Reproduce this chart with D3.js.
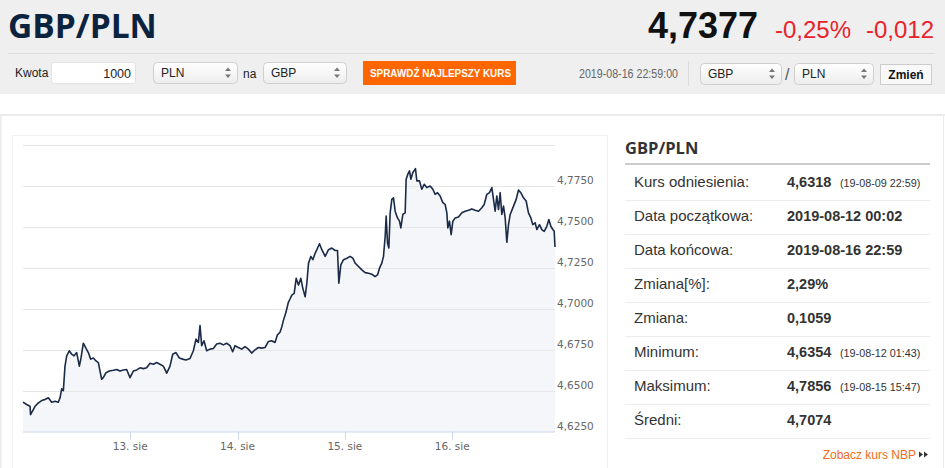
<!DOCTYPE html>
<html>
<head>
<meta charset="utf-8">
<script src="https://d3js.org/d3.v7.min.js"></script>
<style>
    body { margin: 0; background: #ffffff; }
    text { font-family: "Liberation Sans", Arial, sans-serif; }
    .axis-label { font-family: "DejaVu Sans", sans-serif; font-size: 10.5px; fill: #666666; }
</style>
</head>
<body>
<div id="container"></div>
<script>
    // hours since 2019-08-12 00:00 and the GBP/PLN rate
    const hours = [
        0.03, 0.85, 1.60, 1.72, 2.72, 3.46, 4.21, 4.95, 5.70, 6.44, 7.19, 7.93, 8.31, 8.68, 9.05, 9.42,
        9.80, 10.39, 10.91, 11.44, 12.03, 12.63, 13.00, 13.52, 14.12, 14.64, 15.16, 15.76, 16.35, 16.88,
        17.25, 17.62, 17.99, 18.59, 19.34, 20.23, 20.98, 21.72, 22.47, 23.21, 23.96, 24.70, 25.45, 26.19,
        26.94, 27.68, 28.43, 29.17, 29.92, 30.66, 31.41, 32.16, 32.90, 33.50, 34.24, 34.99, 35.73, 36.48,
        37.37, 38.12, 38.71, 39.24, 39.61, 39.98, 40.50, 41.10, 41.84, 42.59, 43.33, 44.08, 44.82, 45.57,
        46.32, 46.91, 47.43, 48.18, 48.92, 49.67, 50.42, 51.16, 51.91, 52.65, 53.40, 54.14, 54.89, 55.63,
        56.38, 56.90, 57.49, 57.87, 58.24, 58.84, 59.36, 59.73, 60.14, 60.66, 61.11, 61.63, 62.15, 62.60,
        63.12, 63.49, 63.87, 64.39, 64.83, 65.36, 65.73, 66.32, 66.85, 67.59, 68.34, 69.08, 69.83, 70.35,
        70.65, 71.09, 71.69, 72.44, 73.18, 73.78, 74.30, 75.05, 75.79, 76.54, 77.28, 78.03, 78.77, 79.29,
        79.74, 80.26, 80.63, 81.01, 81.23, 81.53, 81.83, 82.12, 82.50, 82.87, 83.24, 83.76, 84.21, 84.51,
        84.96, 85.48, 85.70, 86.07, 86.45, 86.75, 87.19, 87.78, 88.09, 88.68, 89.20, 89.73, 90.32, 91.07,
        91.66, 92.19, 92.71, 93.30, 93.90, 94.42, 94.80, 95.02, 95.39, 95.76, 96.14, 96.66, 97.40, 98.15,
        98.89, 99.64, 100.38, 101.13, 101.88, 102.62, 103.14, 103.74, 104.33, 104.86, 105.23, 105.60,
        105.97, 106.35, 106.72, 107.09, 107.47, 107.84, 108.21, 108.58, 108.96, 109.70, 110.30, 110.82,
        111.34, 111.94, 112.53, 113.05, 113.58, 114.02, 114.54, 114.92, 115.51, 116.04, 116.56, 117.15,
        117.60, 118.05, 118.50, 118.80, 118.98
    ];
    const rates = [
        4.6431, 4.6416, 4.6405, 4.6354, 4.6405, 4.6426, 4.6440, 4.6447, 4.6457, 4.6430, 4.6436, 4.6430, 4.6457, 4.6512, 4.6500, 4.6650,
        4.6713, 4.6744, 4.6723, 4.6713, 4.6733, 4.6650, 4.6700, 4.6790, 4.6758, 4.6733, 4.6693, 4.6700, 4.6682, 4.6672,
        4.6620, 4.6570, 4.6580, 4.6610, 4.6620, 4.6625, 4.6630, 4.6620, 4.6627, 4.6630, 4.6580, 4.6620, 4.6627, 4.6640,
        4.6635, 4.6640, 4.6668, 4.6662, 4.6672, 4.6662, 4.6650, 4.6607, 4.6650, 4.6723, 4.6733, 4.6700, 4.6693, 4.6688,
        4.6697, 4.6744, 4.6815, 4.6795, 4.6898, 4.6775, 4.6805, 4.6744, 4.6754, 4.6758, 4.6785, 4.6790, 4.6780, 4.6790,
        4.6775, 4.6738, 4.6775, 4.6764, 4.6754, 4.6770, 4.6754, 4.6730, 4.6750, 4.6764, 4.6760, 4.6764, 4.6800, 4.6805,
        4.6795, 4.6840, 4.6857, 4.6887, 4.6928, 4.6980, 4.7040, 4.7060, 4.7084, 4.7094, 4.7186, 4.7145, 4.7186, 4.7125,
        4.7074, 4.7156, 4.7279, 4.7320, 4.7300, 4.7340, 4.7361, 4.7397, 4.7361, 4.7320, 4.7361, 4.7371, 4.7356, 4.7356,
        4.7156, 4.7268, 4.7300, 4.7309, 4.7320, 4.7309, 4.7279, 4.7258, 4.7238, 4.7221, 4.7217, 4.7211, 4.7197, 4.7207,
        4.7248, 4.7279, 4.7320, 4.7443, 4.7566, 4.7402, 4.7371, 4.7586, 4.7668, 4.7678, 4.7596, 4.7555, 4.7535, 4.7494,
        4.7576, 4.7586, 4.7791, 4.7822, 4.7842, 4.7791, 4.7832, 4.7856, 4.7781, 4.7781, 4.7730, 4.7760, 4.7740, 4.7750,
        4.7730, 4.7699, 4.7709, 4.7689, 4.7648, 4.7637, 4.7586, 4.7494, 4.7535, 4.7453, 4.7535, 4.7555, 4.7561, 4.7586,
        4.7596, 4.7602, 4.7610, 4.7602, 4.7596, 4.7617, 4.7637, 4.7699, 4.7709, 4.7740, 4.7668, 4.7596,
        4.7689, 4.7606, 4.7709, 4.7576, 4.7627, 4.7555, 4.7406, 4.7514, 4.7576, 4.7627, 4.7668, 4.7725,
        4.7709, 4.7678, 4.7658, 4.7586, 4.7555, 4.7514, 4.7525, 4.7484, 4.7514, 4.7484, 4.7473, 4.7504,
        4.7545, 4.7504, 4.7484, 4.7473, 4.7377
    ];
    const yTicks = [4.625, 4.650, 4.675, 4.700, 4.725, 4.750, 4.775, 4.800];
    const yLabelMax = 4.775;

    const statLabels = ["Kurs odniesienia:", "Data początkowa:", "Data końcowa:", "Zmiana[%]:", "Zmiana:", "Minimum:", "Maksimum:", "Średni:"];
    const statValues = ["4,6318", "2019-08-12 00:02", "2019-08-16 22:59", "2,29%", "0,1059", "4,6354", "4,7856", "4,7074"];
    const statNotes = ["(19-08-09 22:59)", "", "", "", "", "(19-08-12 01:43)", "(19-08-15 15:47)", ""];

    const plLocale = d3.formatLocale({decimal: ",", thousands: " ", grouping: [3], currency: ["", " zł"]});
    const fmt4 = plLocale.format(".4f");

    const W = 945, H = 468;
    const svg = d3.select("#container").append("svg")
        .attr("width", W).attr("height", H);

    // ---------- header ----------
    svg.append("rect").attr("x", 0).attr("y", 0).attr("width", W).attr("height", 94).attr("fill", "#efefef");

    svg.append("text").attr("x", 8).attr("y", 38)
        .style("font-family", "'Open Sans', sans-serif").style("font-weight", "bold")
        .style("font-size", "33.5px").attr("fill", "#0c2340").text("GBP/PLN");

    svg.append("text").attr("x", 758).attr("y", 38).attr("text-anchor", "end")
        .style("font-weight", "bold").style("font-size", "36px").attr("fill", "#111111")
        .text(fmt4(rates[rates.length - 1]));
    svg.append("text").attr("x", 775).attr("y", 38)
        .style("font-size", "24px").attr("fill", "#e9222b").text("-0,25%");
    svg.append("text").attr("x", 866).attr("y", 38)
        .style("font-size", "24px").attr("fill", "#e9222b").text("-0,012");

    svg.append("line").attr("x1", 8).attr("x2", 935).attr("y1", 53.5).attr("y2", 53.5)
        .attr("stroke", "#dcdcdc");

    // select box like a browser dropdown
    const grad = svg.append("defs").append("linearGradient").attr("id", "selGrad")
        .attr("x1", 0).attr("x2", 0).attr("y1", 0).attr("y2", 1);
    grad.append("stop").attr("offset", "0%").attr("stop-color", "#ffffff");
    grad.append("stop").attr("offset", "100%").attr("stop-color", "#ededed");

    function selectBox(x, y, w, h, label) {
        const g = svg.append("g").attr("transform", `translate(${x},${y})`);
        g.append("rect").attr("x", 0.5).attr("y", 0.5).attr("width", w).attr("height", h)
            .attr("rx", 4).attr("fill", "url(#selGrad)").attr("stroke", "#cfcfcf");
        g.append("text").attr("x", 8).attr("y", h / 2 + 4.5).style("font-size", "12px")
            .attr("fill", "#222").text(label);
        const ax = w - 9, cy = h / 2;
        g.append("path").attr("d", `M${ax - 3},${cy - 1.5} L${ax},${cy - 5} L${ax + 3},${cy - 1.5} Z`).attr("fill", "#777");
        g.append("path").attr("d", `M${ax - 3},${cy + 2} L${ax},${cy + 5.5} L${ax + 3},${cy + 2} Z`).attr("fill", "#777");
    }

    svg.append("text").attr("x", 15).attr("y", 77).style("font-size", "12px").attr("fill", "#222").text("Kwota");
    svg.append("rect").attr("x", 51.5).attr("y", 62.5).attr("width", 84).attr("height", 21)
        .attr("rx", 2).attr("fill", "#fff").attr("stroke", "#e2e2e2");
    svg.append("text").attr("x", 131).attr("y", 77.5).attr("text-anchor", "end")
        .style("font-size", "12.5px").attr("fill", "#222").text("1000");

    selectBox(153, 62, 84, 21, "PLN");
    svg.append("text").attr("x", 243).attr("y", 77.5).style("font-size", "12px").attr("fill", "#222").text("na");
    selectBox(263, 62, 83, 21, "GBP");

    svg.append("rect").attr("x", 363).attr("y", 61).attr("width", 153).attr("height", 24).attr("fill", "#ff6600");
    svg.append("text").attr("x", 370).attr("y", 77).style("font-size", "11px").style("font-weight", "bold")
        .attr("fill", "#fff").attr("textLength", 141).attr("lengthAdjust", "spacingAndGlyphs")
        .text("SPRAWDŹ NAJLEPSZY KURS");

    svg.append("text").attr("x", 579).attr("y", 78).style("font-size", "12.5px").attr("fill", "#666")
        .attr("textLength", 99).attr("lengthAdjust", "spacingAndGlyphs").text("2019-08-16 22:59:00");
    svg.append("line").attr("x1", 688.5).attr("x2", 688.5).attr("y1", 61).attr("y2", 86).attr("stroke", "#dcdcdc");

    selectBox(700, 63, 81, 21, "GBP");
    svg.append("text").attr("x", 785).attr("y", 80).style("font-size", "16px").attr("fill", "#555").text("/");
    selectBox(794, 63, 79, 21, "PLN");

    svg.append("rect").attr("x", 880.5).attr("y", 64.5).attr("width", 51).attr("height", 20)
        .attr("fill", "#f8f8f8").attr("stroke", "#cccccc");
    svg.append("text").attr("x", 906).attr("y", 79).attr("text-anchor", "middle")
        .style("font-size", "12px").style("font-weight", "bold").attr("fill", "#111").text("Zmień");

    // ---------- card ----------
    svg.append("line").attr("x1", 0).attr("x2", W).attr("y1", 115).attr("y2", 115)
        .attr("stroke", "#ebebeb").attr("stroke-width", 2);
    svg.append("line").attr("x1", 0.8).attr("x2", 0.8).attr("y1", 114).attr("y2", H)
        .attr("stroke", "#ebebeb").attr("stroke-width", 1.6);
    svg.append("line").attr("x1", 943.5).attr("x2", 943.5).attr("y1", 114).attr("y2", H)
        .attr("stroke", "#ebebeb");
    svg.append("rect").attr("x", 12.5).attr("y", 135.5).attr("width", 595).attr("height", 360)
        .attr("fill", "none").attr("stroke", "#efefef");

    // ---------- chart ----------
    const start = new Date(2019, 7, 12, 0, 0);
    const data = hours.map((h, i) => ({date: new Date(start.getTime() + h * 3600e3), value: rates[i]}));

    const plot = {left: 23, right: 555, top: 145, bottom: 431.7};
    const x = d3.scaleTime()
        .domain(d3.extent(data, d => d.date))
        .range([plot.left, plot.right]);
    const y = d3.scaleLinear()
        .domain([yTicks[0], yTicks[yTicks.length - 1]])
        .range([plot.bottom, plot.top]);

    const area = d3.area().x(d => x(d.date)).y0(plot.bottom).y1(d => y(d.value));
    svg.append("path").datum(data).attr("d", area).attr("fill", "#f4f6f9");

    // grid
    svg.append("g").selectAll("line").data(yTicks.slice(1)).join("line")
        .attr("x1", plot.left).attr("x2", plot.right)
        .attr("y1", d => Math.round(y(d)) + 0.5).attr("y2", d => Math.round(y(d)) + 0.5)
        .attr("stroke", "#e6e6e6");

    svg.append("g").selectAll("text").data(yTicks.filter(d => d <= yLabelMax + 1e-9)).join("text")
        .attr("class", "axis-label")
        .attr("x", plot.right + 2).attr("y", d => y(d) - 1.7)
        .text(d => fmt4(d));

    const line = d3.line().x(d => x(d.date)).y(d => y(d.value));
    svg.append("path").datum(data).attr("d", line)
        .attr("fill", "none").attr("stroke", "#1b2a47").attr("stroke-width", 1.6)
        .attr("stroke-linejoin", "round");

    // x axis
    const xTicks = d3.timeDay.range(d3.timeDay.ceil(x.domain()[0]), x.domain()[1]);
    svg.append("line").attr("x1", plot.left).attr("x2", plot.right)
        .attr("y1", plot.bottom + 0.3).attr("y2", plot.bottom + 0.3).attr("stroke", "#ccd6eb");
    svg.append("g").selectAll("line").data(xTicks).join("line")
        .attr("x1", d => Math.round(x(d)) + 0.5).attr("x2", d => Math.round(x(d)) + 0.5)
        .attr("y1", plot.bottom).attr("y2", plot.bottom + 8)
        .attr("stroke", "#ccd6eb");
    svg.append("g").selectAll("text").data(xTicks).join("text")
        .attr("class", "axis-label").attr("text-anchor", "middle")
        .attr("x", d => x(d)).attr("y", 449.5)
        .text(d => d.getDate() + ". sie");

    // ---------- stats panel ----------
    svg.append("text").attr("x", 625).attr("y", 154)
        .style("font-family", "'Open Sans', sans-serif").style("font-weight", "bold")
        .style("font-size", "16.5px").attr("fill", "#333").text("GBP/PLN");
    svg.append("line").attr("x1", 625).attr("x2", 930).attr("y1", 164).attr("y2", 164)
        .attr("stroke", "#cccccc").attr("stroke-width", 2);

    const rowH = 34;
    const rows = svg.append("g").selectAll("g").data(statLabels).join("g")
        .attr("transform", (d, i) => `translate(0,${i * rowH})`);
    rows.append("line").attr("x1", 625).attr("x2", 930).attr("y1", 200.5).attr("y2", 200.5)
        .attr("stroke", "#ececec");
    rows.append("text").attr("x", 634).attr("y", 187).style("font-size", "15px").attr("fill", "#333")
        .text(d => d);
    rows.append("text").attr("x", 787).attr("y", 187).style("font-size", "14.5px").style("font-weight", "bold")
        .attr("fill", "#333").text((d, i) => statValues[i]);
    rows.append("text").attr("x", 840).attr("y", 187).style("font-size", "10.8px").attr("fill", "#333")
        .text((d, i) => statNotes[i]);

    svg.append("text").attr("x", 916).attr("y", 459).attr("text-anchor", "end")
        .style("font-size", "12px").attr("fill", "#f26b21").text("Zobacz kurs NBP");
    svg.append("path").attr("d", "M919,451.5 L923,454.5 L919,457.5 Z M924,451.5 L928,454.5 L924,457.5 Z")
        .attr("fill", "#333");
</script>
</body>
</html>
